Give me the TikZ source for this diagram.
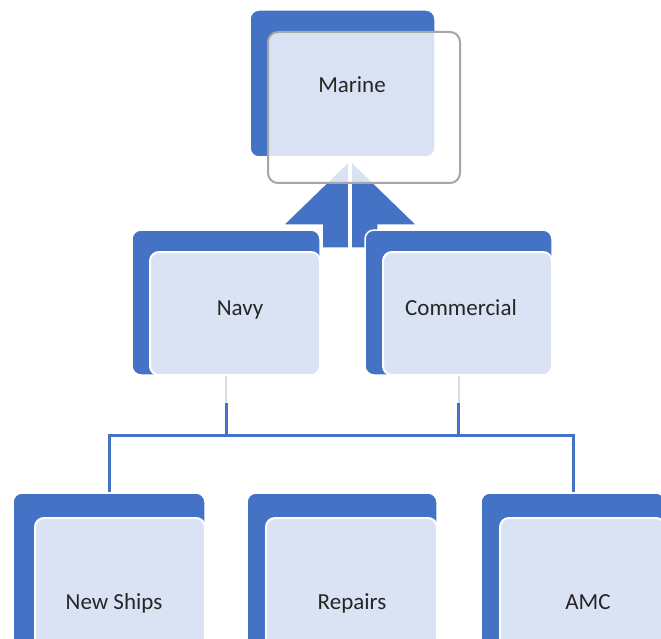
\documentclass[tikz,border=0pt]{standalone}
\usepackage{fontspec}
\setmainfont{Carlito}
\definecolor{bblue}{HTML}{4472C4}
\definecolor{lfill}{HTML}{DAE3F3}
\definecolor{faintc}{HTML}{D6DCE8}
\definecolor{frameg}{HTML}{A6A6A6}
\definecolor{txt}{HTML}{262626}
\tikzset{
  backbox/.style={fill=bblue, draw=white, line width=1.5pt, rounded corners=9pt, inner sep=0pt},
  frontbox/.style={fill=lfill, draw=white, line width=2pt, rounded corners=9pt, inner sep=0pt},
  lbl/.style={anchor=base, text=txt, font=\fontsize{23}{27}\selectfont, inner sep=0pt},
  conn/.style={draw=bblue, line width=3pt},
  faintline/.style={draw=faintc, line width=2pt}
}
\begin{document}
\begin{tikzpicture}[x=1pt,y=-1pt]
\useasboundingbox (0,0) rectangle (661,639);
\clip (0,0) rectangle (661,639);
\fill[white] (0,0) rectangle (661,639);
% Marine back
\node[backbox, minimum width=185pt, minimum height=147pt] (marb) at (342.5,83.5) {};
% arrow up towards Marine
\filldraw[fill=bblue, draw=white, line width=1.5pt]
  (350,160) -- (417,225) -- (378,225) -- (378,248) -- (322,248) -- (322,225) -- (283,225) -- cycle;
\draw[white, line width=4pt] (350,160) -- (350,250);
% Marine front (translucent)
\node[draw=frameg, line width=2pt, fill=white, fill opacity=0.8, rounded corners=10pt,
      minimum width=192pt, minimum height=151pt, inner sep=0pt] (marf) at (364,107.5) {};
\node[lbl] (marine) at (352,93) {Marine};
% Navy
\node[backbox, minimum width=188pt, minimum height=145pt] (navyb) at (226,302.5) {};
\node[frontbox, minimum width=170pt, minimum height=123pt] (navyf) at (235,313.5) {};
\node[lbl] (navy) at (240,315) {Navy};
% Commercial
\node[backbox, minimum width=187pt, minimum height=145pt] (commb) at (458.5,302.5) {};
\node[frontbox, minimum width=169pt, minimum height=123pt] (commf) at (467.5,313.5) {};
\node[lbl] (comm) at (461,315) {Commercial};
% bottom row
\node[backbox, minimum width=192pt, minimum height=187pt] (newb) at (109,586.5) {};
\node[frontbox, minimum width=170pt, minimum height=162pt] (newf) at (120,599) {};
\node[lbl] (news) at (114,609) {New Ships};
\node[backbox, minimum width=190pt, minimum height=187pt] (repb) at (342,586.5) {};
\node[frontbox, minimum width=171pt, minimum height=162pt] (repf) at (351.5,599) {};
\node[lbl] (rep) at (352,609) {Repairs};
\node[backbox, minimum width=184pt, minimum height=187pt] (amcb) at (573,586.5) {};
\node[frontbox, minimum width=165pt, minimum height=162pt] (amcf) at (582.5,599) {};
\node[lbl] (amc) at (588,609) {AMC};
% connectors
\coordinate (bus) at (340,435);
\coordinate (brk) at (340,403);
\draw[faintline] (navyb.south) -- (navyb.south |- brk);
\draw[faintline] (commb.south) -- (commb.south |- brk);
\draw[conn] (navyb.south |- brk) -- (navyb.south |- bus);
\draw[conn] (commb.south |- brk) -- (commb.south |- bus);
\draw[conn] (newb.north) -- (newb.north |- bus) -- (amcb.north |- bus) -- (amcb.north);
\end{tikzpicture}
\end{document}
